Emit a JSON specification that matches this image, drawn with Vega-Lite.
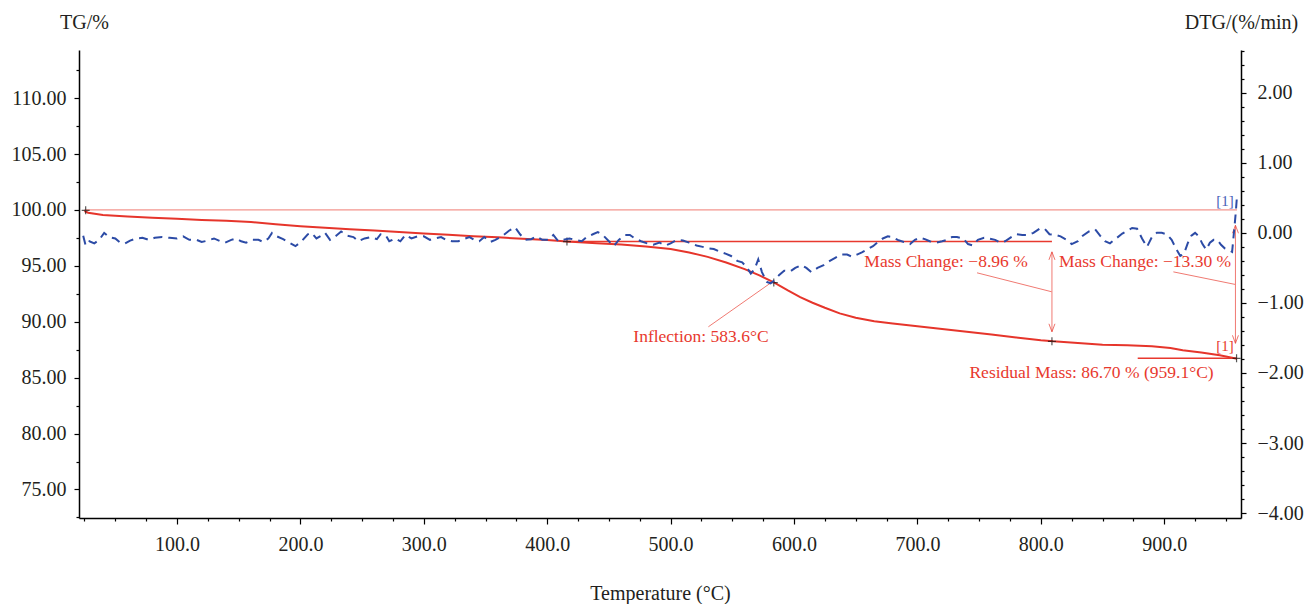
{
  "$schema": "https://vega.github.io/schema/vega-lite/v6.json",
  "width": 1162,
  "height": 468,
  "autosize": {"type": "none"},
  "padding": {"left": 79, "top": 50, "right": 67, "bottom": 86},
  "config": {
    "view": {"stroke": null},
    "font": "Liberation Serif",
    "axis": {
      "domainColor": "#000000",
      "domainWidth": 1.5,
      "tickColor": "#000000",
      "tickWidth": 1.2,
      "labelFont": "Liberation Serif",
      "labelFontSize": 20,
      "labelColor": "#231f20",
      "titleFont": "Liberation Serif",
      "titleFontSize": 20,
      "titleFontWeight": "normal",
      "titleColor": "#231f20",
      "grid": false,
      "labelOverlap": false,
      "labelFlush": false,
      "labelBound": false
    }
  },
  "datasets": {
    "tg": [
      {"T": 25, "TG": 99.9}, {"T": 28, "TG": 99.75}, {"T": 40, "TG": 99.55}, {"T": 60, "TG": 99.42},
      {"T": 80, "TG": 99.3}, {"T": 100, "TG": 99.2}, {"T": 120, "TG": 99.1}, {"T": 140, "TG": 99.02},
      {"T": 160, "TG": 98.92}, {"T": 180, "TG": 98.72}, {"T": 200, "TG": 98.55}, {"T": 220, "TG": 98.4},
      {"T": 240, "TG": 98.28}, {"T": 260, "TG": 98.15}, {"T": 280, "TG": 98.02}, {"T": 300, "TG": 97.9},
      {"T": 320, "TG": 97.78}, {"T": 340, "TG": 97.65}, {"T": 360, "TG": 97.55}, {"T": 380, "TG": 97.42},
      {"T": 400, "TG": 97.3}, {"T": 416, "TG": 97.17}, {"T": 440, "TG": 97.02}, {"T": 460, "TG": 96.9},
      {"T": 480, "TG": 96.72}, {"T": 500, "TG": 96.5}, {"T": 515, "TG": 96.2}, {"T": 530, "TG": 95.8},
      {"T": 545, "TG": 95.3}, {"T": 560, "TG": 94.7}, {"T": 572, "TG": 94.15}, {"T": 584, "TG": 93.5},
      {"T": 595, "TG": 92.8}, {"T": 605, "TG": 92.2}, {"T": 615, "TG": 91.7}, {"T": 625, "TG": 91.25},
      {"T": 637, "TG": 90.75}, {"T": 650, "TG": 90.35}, {"T": 665, "TG": 90.05}, {"T": 680, "TG": 89.85},
      {"T": 700, "TG": 89.6}, {"T": 720, "TG": 89.35}, {"T": 740, "TG": 89.1}, {"T": 760, "TG": 88.85},
      {"T": 780, "TG": 88.6}, {"T": 800, "TG": 88.35}, {"T": 810, "TG": 88.25}, {"T": 830, "TG": 88.1},
      {"T": 850, "TG": 87.95}, {"T": 870, "TG": 87.9}, {"T": 890, "TG": 87.8}, {"T": 905, "TG": 87.65},
      {"T": 915, "TG": 87.45}, {"T": 930, "TG": 87.25}, {"T": 945, "TG": 87.0}, {"T": 959, "TG": 86.7}
    ],
    "dtg": [
      {"T": 24, "DTG": -0.04}, {"T": 26, "DTG": -0.18}, {"T": 29, "DTG": -0.12}, {"T": 33, "DTG": -0.15},
      {"T": 37, "DTG": -0.1}, {"T": 41, "DTG": 0.0}, {"T": 45, "DTG": -0.06}, {"T": 50, "DTG": -0.08},
      {"T": 54, "DTG": -0.14}, {"T": 58, "DTG": -0.15}, {"T": 62, "DTG": -0.11}, {"T": 67, "DTG": -0.08},
      {"T": 72, "DTG": -0.07}, {"T": 77, "DTG": -0.1}, {"T": 82, "DTG": -0.07}, {"T": 88, "DTG": -0.06},
      {"T": 94, "DTG": -0.07}, {"T": 100, "DTG": -0.08}, {"T": 105, "DTG": -0.05}, {"T": 110, "DTG": -0.1},
      {"T": 116, "DTG": -0.1}, {"T": 120, "DTG": -0.13}, {"T": 125, "DTG": -0.11}, {"T": 130, "DTG": -0.08},
      {"T": 135, "DTG": -0.12}, {"T": 139, "DTG": -0.14}, {"T": 144, "DTG": -0.1}, {"T": 148, "DTG": -0.08},
      {"T": 152, "DTG": -0.12}, {"T": 156, "DTG": -0.14}, {"T": 161, "DTG": -0.1}, {"T": 166, "DTG": -0.1},
      {"T": 170, "DTG": -0.13}, {"T": 174, "DTG": -0.08}, {"T": 177, "DTG": 0.0}, {"T": 181, "DTG": -0.05},
      {"T": 186, "DTG": -0.09}, {"T": 192, "DTG": -0.15}, {"T": 196, "DTG": -0.19}, {"T": 201, "DTG": -0.12},
      {"T": 206, "DTG": -0.02}, {"T": 209, "DTG": 0.0}, {"T": 213, "DTG": -0.08}, {"T": 217, "DTG": -0.04},
      {"T": 220, "DTG": 0.0}, {"T": 224, "DTG": -0.1}, {"T": 229, "DTG": -0.04}, {"T": 233, "DTG": 0.02},
      {"T": 238, "DTG": -0.04}, {"T": 243, "DTG": -0.06}, {"T": 247, "DTG": -0.12}, {"T": 252, "DTG": -0.08},
      {"T": 257, "DTG": -0.06}, {"T": 262, "DTG": -0.09}, {"T": 265, "DTG": -0.02}, {"T": 269, "DTG": -0.03},
      {"T": 272, "DTG": -0.12}, {"T": 277, "DTG": -0.08}, {"T": 281, "DTG": -0.12}, {"T": 285, "DTG": -0.03},
      {"T": 290, "DTG": -0.08}, {"T": 295, "DTG": -0.05}, {"T": 300, "DTG": -0.05}, {"T": 305, "DTG": -0.1},
      {"T": 309, "DTG": -0.08}, {"T": 314, "DTG": -0.06}, {"T": 318, "DTG": -0.1}, {"T": 323, "DTG": -0.12},
      {"T": 328, "DTG": -0.12}, {"T": 332, "DTG": -0.09}, {"T": 337, "DTG": -0.06}, {"T": 341, "DTG": -0.1},
      {"T": 345, "DTG": -0.12}, {"T": 349, "DTG": -0.06}, {"T": 354, "DTG": -0.13}, {"T": 358, "DTG": -0.1},
      {"T": 364, "DTG": -0.04}, {"T": 369, "DTG": 0.03}, {"T": 374, "DTG": 0.08}, {"T": 378, "DTG": -0.02},
      {"T": 382, "DTG": -0.1}, {"T": 387, "DTG": -0.09}, {"T": 391, "DTG": -0.05}, {"T": 396, "DTG": -0.1},
      {"T": 401, "DTG": -0.1}, {"T": 405, "DTG": -0.03}, {"T": 409, "DTG": -0.12}, {"T": 413, "DTG": -0.1},
      {"T": 418, "DTG": -0.08}, {"T": 423, "DTG": -0.1}, {"T": 428, "DTG": -0.12}, {"T": 432, "DTG": -0.06},
      {"T": 437, "DTG": -0.02}, {"T": 441, "DTG": 0.01}, {"T": 445, "DTG": -0.03}, {"T": 450, "DTG": -0.12},
      {"T": 454, "DTG": -0.19}, {"T": 458, "DTG": -0.1}, {"T": 463, "DTG": -0.03}, {"T": 467, "DTG": -0.03},
      {"T": 471, "DTG": -0.08}, {"T": 476, "DTG": -0.12}, {"T": 481, "DTG": -0.15}, {"T": 486, "DTG": -0.17},
      {"T": 491, "DTG": -0.14}, {"T": 496, "DTG": -0.18}, {"T": 500, "DTG": -0.15}, {"T": 505, "DTG": -0.1},
      {"T": 510, "DTG": -0.11}, {"T": 515, "DTG": -0.14}, {"T": 521, "DTG": -0.18}, {"T": 526, "DTG": -0.2},
      {"T": 530, "DTG": -0.22}, {"T": 535, "DTG": -0.23}, {"T": 540, "DTG": -0.27}, {"T": 545, "DTG": -0.3},
      {"T": 549, "DTG": -0.33}, {"T": 554, "DTG": -0.4}, {"T": 558, "DTG": -0.42}, {"T": 562, "DTG": -0.5},
      {"T": 565, "DTG": -0.58}, {"T": 568, "DTG": -0.52}, {"T": 571, "DTG": -0.38}, {"T": 574, "DTG": -0.56},
      {"T": 578, "DTG": -0.7}, {"T": 581, "DTG": -0.72}, {"T": 584, "DTG": -0.68}, {"T": 588, "DTG": -0.6},
      {"T": 592, "DTG": -0.54}, {"T": 597, "DTG": -0.55}, {"T": 601, "DTG": -0.5}, {"T": 606, "DTG": -0.46},
      {"T": 610, "DTG": -0.5}, {"T": 614, "DTG": -0.56}, {"T": 619, "DTG": -0.5}, {"T": 624, "DTG": -0.46},
      {"T": 629, "DTG": -0.4}, {"T": 633, "DTG": -0.36}, {"T": 638, "DTG": -0.31}, {"T": 643, "DTG": -0.31},
      {"T": 647, "DTG": -0.34}, {"T": 651, "DTG": -0.31}, {"T": 655, "DTG": -0.28}, {"T": 659, "DTG": -0.24},
      {"T": 664, "DTG": -0.19}, {"T": 668, "DTG": -0.13}, {"T": 672, "DTG": -0.08}, {"T": 676, "DTG": -0.05},
      {"T": 680, "DTG": -0.06}, {"T": 684, "DTG": -0.1}, {"T": 689, "DTG": -0.13}, {"T": 694, "DTG": -0.16},
      {"T": 698, "DTG": -0.1}, {"T": 702, "DTG": -0.07}, {"T": 706, "DTG": -0.09}, {"T": 710, "DTG": -0.12},
      {"T": 715, "DTG": -0.14}, {"T": 720, "DTG": -0.12}, {"T": 724, "DTG": -0.1}, {"T": 728, "DTG": -0.06},
      {"T": 732, "DTG": -0.06}, {"T": 737, "DTG": -0.08}, {"T": 741, "DTG": -0.16}, {"T": 745, "DTG": -0.18},
      {"T": 749, "DTG": -0.1}, {"T": 754, "DTG": -0.07}, {"T": 758, "DTG": -0.08}, {"T": 763, "DTG": -0.1},
      {"T": 767, "DTG": -0.14}, {"T": 771, "DTG": -0.12}, {"T": 776, "DTG": -0.06}, {"T": 780, "DTG": -0.02},
      {"T": 785, "DTG": -0.03}, {"T": 789, "DTG": -0.03}, {"T": 794, "DTG": 0.0}, {"T": 799, "DTG": 0.06},
      {"T": 803, "DTG": 0.06}, {"T": 807, "DTG": -0.02}, {"T": 812, "DTG": -0.03}, {"T": 816, "DTG": -0.05},
      {"T": 821, "DTG": -0.1}, {"T": 825, "DTG": -0.16}, {"T": 830, "DTG": -0.12}, {"T": 834, "DTG": -0.04},
      {"T": 839, "DTG": 0.02}, {"T": 844, "DTG": 0.05}, {"T": 848, "DTG": -0.04}, {"T": 852, "DTG": -0.12},
      {"T": 856, "DTG": -0.15}, {"T": 861, "DTG": -0.08}, {"T": 866, "DTG": -0.01}, {"T": 870, "DTG": 0.03},
      {"T": 874, "DTG": 0.07}, {"T": 878, "DTG": 0.06}, {"T": 882, "DTG": -0.08}, {"T": 886, "DTG": -0.2},
      {"T": 890, "DTG": -0.06}, {"T": 894, "DTG": 0.0}, {"T": 898, "DTG": 0.0}, {"T": 902, "DTG": -0.02},
      {"T": 906, "DTG": -0.1}, {"T": 910, "DTG": -0.24}, {"T": 913, "DTG": -0.33}, {"T": 916, "DTG": -0.3},
      {"T": 919, "DTG": -0.15}, {"T": 922, "DTG": -0.04}, {"T": 925, "DTG": 0.0}, {"T": 928, "DTG": -0.05},
      {"T": 931, "DTG": -0.16}, {"T": 934, "DTG": -0.24}, {"T": 937, "DTG": -0.14}, {"T": 940, "DTG": -0.1},
      {"T": 943, "DTG": -0.1}, {"T": 946, "DTG": -0.17}, {"T": 949, "DTG": -0.22}, {"T": 952, "DTG": -0.24},
      {"T": 955, "DTG": -0.27}, {"T": 957, "DTG": 0.1}, {"T": 958, "DTG": 0.3}, {"T": 959, "DTG": 0.54}
    ],
    "thinRules": [
      {"T": 25, "T2": 959, "TG": 100, "TG2": 100},
      {"T": 809, "T2": 809, "TG": 96.25, "TG2": 89.1},
      {"T": 957.7, "T2": 957.7, "TG": 98.63, "TG2": 88.07},
      {"T": 748.3, "T2": 808.8, "TG": 94.375, "TG2": 92.68},
      {"T": 907.4, "T2": 957.4, "TG": 94.46, "TG2": 93.34},
      {"T": 530.6, "T2": 580.6, "TG": 89.55, "TG2": 93.43}
    ],
    "boldRules": [
      {"T": 416, "T2": 809, "TG": 97.17, "TG2": 97.17},
      {"T": 878.5, "T2": 958.5, "TG": 86.73, "TG2": 86.73}
    ],
    "arrowUp": [
      {"T": 809, "TG": 96.25},
      {"T": 957.7, "TG": 98.63}
    ],
    "arrowDown": [
      {"T": 809, "TG": 89.1},
      {"T": 957.7, "TG": 88.07}
    ],
    "crosses": [
      {"T": 26, "TG": 99.96},
      {"T": 416, "TG": 97.17},
      {"T": 583.6, "TG": 93.5},
      {"T": 809, "TG": 88.25},
      {"T": 958.6, "TG": 86.73}
    ],
    "redLabels": [
      {"T": 723.2, "TG": 95.36, "label": "Mass Change: −8.96 %"},
      {"T": 884.4, "TG": 95.36, "label": "Mass Change: −13.30 %"},
      {"T": 841.1, "TG": 85.45, "label": "Residual Mass: 86.70 % (959.1°C)"},
      {"T": 524.6, "TG": 88.66, "label": "Inflection: 583.6°C"}
    ],
    "redSmall": [
      {"T": 949.3, "TG": 87.83, "label": "[1]"}
    ],
    "blueSmall": [
      {"T": 949.3, "TG": 100.78, "label": "[1]"}
    ]
  },
  "encoding": {
    "x": {
      "field": "T", "type": "quantitative",
      "scale": {"domain": [20.6, 962.2], "nice": false, "zero": false},
      "axis": {
        "orient": "bottom",
        "values": [25, 50, 75, 100, 125, 150, 175, 200, 225, 250, 275, 300, 325, 350, 375, 400, 425, 450, 475, 500, 525, 550, 575, 600, 625, 650, 675, 700, 725, 750, 775, 800, 825, 850, 875, 900, 925, 950],
        "labelExpr": "datum.value % 100 === 0 ? format(datum.value, '.1f') : ''",
        "tickSize": {"condition": {"test": "datum.value % 100 === 0", "value": 6}, "value": 3},
        "labelPadding": 10,
        "title": "Temperature (°C)",
        "titleY": 75,
        "titleBaseline": "middle"
      }
    }
  },
  "layer": [
    {
      "encoding": {
        "y": {
          "field": "TG", "type": "quantitative",
          "scale": {"domain": [72.45, 114.3], "nice": false, "zero": false},
          "axis": {
            "orient": "left",
            "values": [72.5, 75, 77.5, 80, 82.5, 85, 87.5, 90, 92.5, 95, 97.5, 100, 102.5, 105, 107.5, 110, 112.5],
            "labelExpr": "datum.value % 5 === 0 ? format(datum.value, '.2f') : ''",
            "tickSize": {"condition": {"test": "datum.value % 5 === 0", "value": 5}, "value": 3},
            "labelPadding": 8,
            "title": "TG/%",
            "titleAngle": 0,
            "titleX": 5,
            "titleY": -28,
            "titleAlign": "center",
            "titleBaseline": "middle"
          }
        }
      },
      "layer": [
        {
          "data": {"name": "thinRules"},
          "mark": {"type": "rule", "color": "#f07a72", "strokeWidth": 1},
          "encoding": {"x2": {"field": "T2"}, "y2": {"field": "TG2"}}
        },
        {
          "data": {"name": "boldRules"},
          "mark": {"type": "rule", "color": "#e8392e", "strokeWidth": 1.6},
          "encoding": {"x2": {"field": "T2"}, "y2": {"field": "TG2"}}
        },
        {
          "data": {"name": "tg"},
          "mark": {"type": "line", "color": "#e6352b", "strokeWidth": 2},
          "encoding": {}
        },
        {
          "data": {"name": "arrowUp"},
          "mark": {"type": "point", "shape": "M-0.75,2L0,0L0.75,2", "size": 64, "filled": false, "stroke": "#e8392e", "strokeWidth": 1},
          "encoding": {}
        },
        {
          "data": {"name": "arrowDown"},
          "mark": {"type": "point", "shape": "M-0.75,-2L0,0L0.75,-2", "size": 64, "filled": false, "stroke": "#e8392e", "strokeWidth": 1},
          "encoding": {}
        },
        {
          "data": {"name": "crosses"},
          "mark": {"type": "point", "shape": "M-1,0L1,0M0,-1L0,1", "size": 64, "filled": false, "stroke": "#111111", "strokeWidth": 1.2},
          "encoding": {}
        },
        {
          "data": {"name": "redLabels"},
          "mark": {"type": "text", "font": "Liberation Serif", "fontSize": 17.5, "color": "#e8392e", "align": "center", "baseline": "middle"},
          "encoding": {"text": {"field": "label"}}
        },
        {
          "data": {"name": "redSmall"},
          "mark": {"type": "text", "font": "Liberation Serif", "fontSize": 15, "color": "#e8392e", "align": "center", "baseline": "middle"},
          "encoding": {"text": {"field": "label"}}
        },
        {
          "data": {"name": "blueSmall"},
          "mark": {"type": "text", "font": "Liberation Serif", "fontSize": 15, "color": "#4a62b8", "align": "center", "baseline": "middle"},
          "encoding": {"text": {"field": "label"}}
        }
      ]
    },
    {
      "data": {"name": "dtg"},
      "mark": {"type": "line", "color": "#2c4ba6", "strokeWidth": 2, "strokeDash": [9, 6]},
      "encoding": {
        "y": {
          "field": "DTG", "type": "quantitative",
          "scale": {"domain": [-4.07, 2.61], "nice": false, "zero": false},
          "axis": {
            "orient": "right",
            "values": [-4, -3.8, -3.6, -3.4, -3.2, -3, -2.8, -2.6, -2.4, -2.2, -2, -1.8, -1.6, -1.4, -1.2, -1, -0.8, -0.6, -0.4, -0.2, 0, 0.2, 0.4, 0.6, 0.8, 1, 1.2, 1.4, 1.6, 1.8, 2, 2.2, 2.4, 2.6],
            "labelExpr": "abs(datum.value - round(datum.value)) < 0.001 ? format(datum.value, '.2f') : ''",
            "tickSize": {"condition": {"test": "abs(datum.value - round(datum.value)) < 0.001", "value": 5}, "value": 3},
            "labelPadding": 11,
            "title": "DTG/(%/min)",
            "titleAngle": 0,
            "titleX": 0,
            "titleY": -28,
            "titleAlign": "center",
            "titleBaseline": "middle"
          }
        }
      }
    }
  ],
  "resolve": {"scale": {"y": "independent"}}
}
